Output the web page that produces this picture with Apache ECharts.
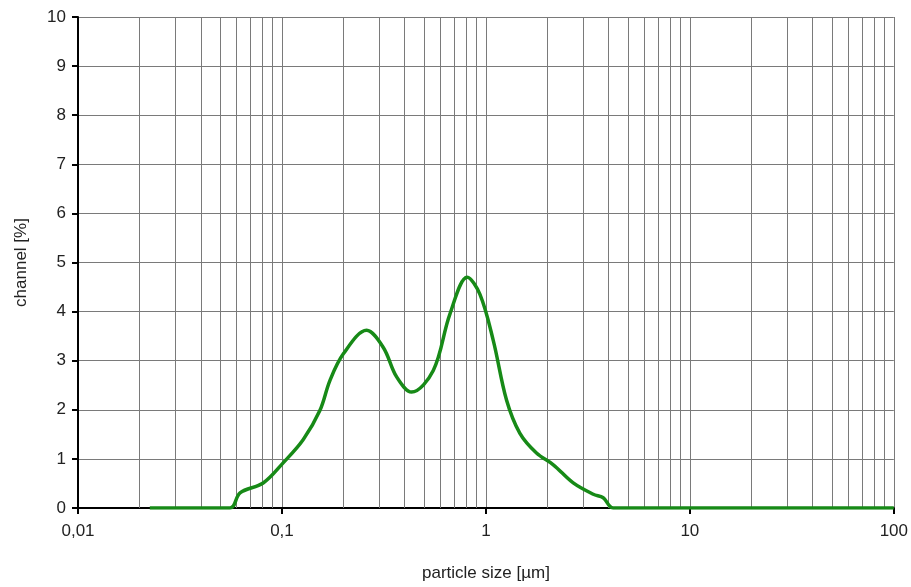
<!DOCTYPE html>
<html><head><meta charset="utf-8">
<script src="https://cdn.jsdelivr.net/npm/echarts@6/dist/echarts.min.js"></script>
<style>html,body{margin:0;padding:0;background:#fff;overflow:hidden}#c{width:911px;height:587px}</style>
</head><body><div id="c"></div>
<script>
var sizes = [0.0225, 0.0556, 0.0623, 0.0809, 0.1011, 0.127, 0.1536, 0.172, 0.2, 0.26, 0.314, 0.365, 0.432, 0.552, 0.666, 0.81, 0.935, 1.087, 1.262, 1.468, 1.77, 2.14, 2.68, 3.36, 3.76, 4.21, 100];
var channel = [0, 0, 0.31, 0.51, 0.915, 1.39, 1.99, 2.6, 3.14, 3.62, 3.27, 2.67, 2.36, 2.8, 3.95, 4.70, 4.35, 3.41, 2.2, 1.52, 1.12, 0.88, 0.51, 0.28, 0.21, 0, 0];
var xTickLabels = {0.01: '0,01', 0.1: '0,1', 1: '1', 10: '10', 100: '100'};
var decades = [0.01, 0.1, 1, 10];
var minorMultipliers = [2, 3, 4, 5, 6, 7, 8, 9];

var minorLines = [];
decades.forEach(function (d) {
  minorMultipliers.forEach(function (m) { minorLines.push({ xAxis: +(d * m).toPrecision(3) }); });
});

var chart = echarts.init(document.getElementById('c'), null, { renderer: 'canvas' });
var font = 'Liberation Sans, Arial, sans-serif';
chart.setOption({
  animation: false,
  grid: { left: 78, right: 17, top: 17, bottom: 75, containLabel: false },
  xAxis: {
    type: 'log', min: 0.01, max: 100, logBase: 10,
    name: 'particle size [µm]', nameLocation: 'middle', nameGap: 57,
    nameTextStyle: { color: '#222', fontSize: 17, fontFamily: font },
    axisLine: { show: true, onZero: false, lineStyle: { color: '#000', width: 2 } },
    axisTick: { show: true, length: 6, lineStyle: { color: '#000', width: 2 } },
    axisLabel: { color: '#222', fontSize: 17, fontFamily: font, margin: 15,
      formatter: function (v) { var k = +v.toPrecision(3); return xTickLabels[k] !== undefined ? xTickLabels[k] : ''; } },
    splitLine: { show: true, lineStyle: { color: '#7a7a7a', width: 1 } },
    minorTick: { show: false }
  },
  yAxis: {
    type: 'value', min: 0, max: 10, interval: 1,
    name: 'channel [%]', nameLocation: 'middle', nameGap: 48, nameRotate: 90,
    nameTextStyle: { color: '#222', fontSize: 17, fontFamily: font },
    axisLine: { show: true, lineStyle: { color: '#000', width: 2 } },
    axisTick: { show: true, length: 6, lineStyle: { color: '#000', width: 2 } },
    axisLabel: { color: '#222', fontSize: 17, fontFamily: font, margin: 12 },
    splitLine: { show: true, lineStyle: { color: '#7a7a7a', width: 1 } }
  },
  series: [{
    type: 'line',
    data: sizes.map(function (s, i) { return [s, channel[i]]; }),
    smooth: 0.35,
    symbol: 'none',
    lineStyle: { color: '#178a17', width: 3.5 },
    z: 5,
    markLine: {
      silent: true, symbol: 'none', label: { show: false },
      lineStyle: { color: '#7a7a7a', width: 1, type: 'solid' },
      data: minorLines, z: 1, animation: false
    }
  }]
});
</script></body></html>
